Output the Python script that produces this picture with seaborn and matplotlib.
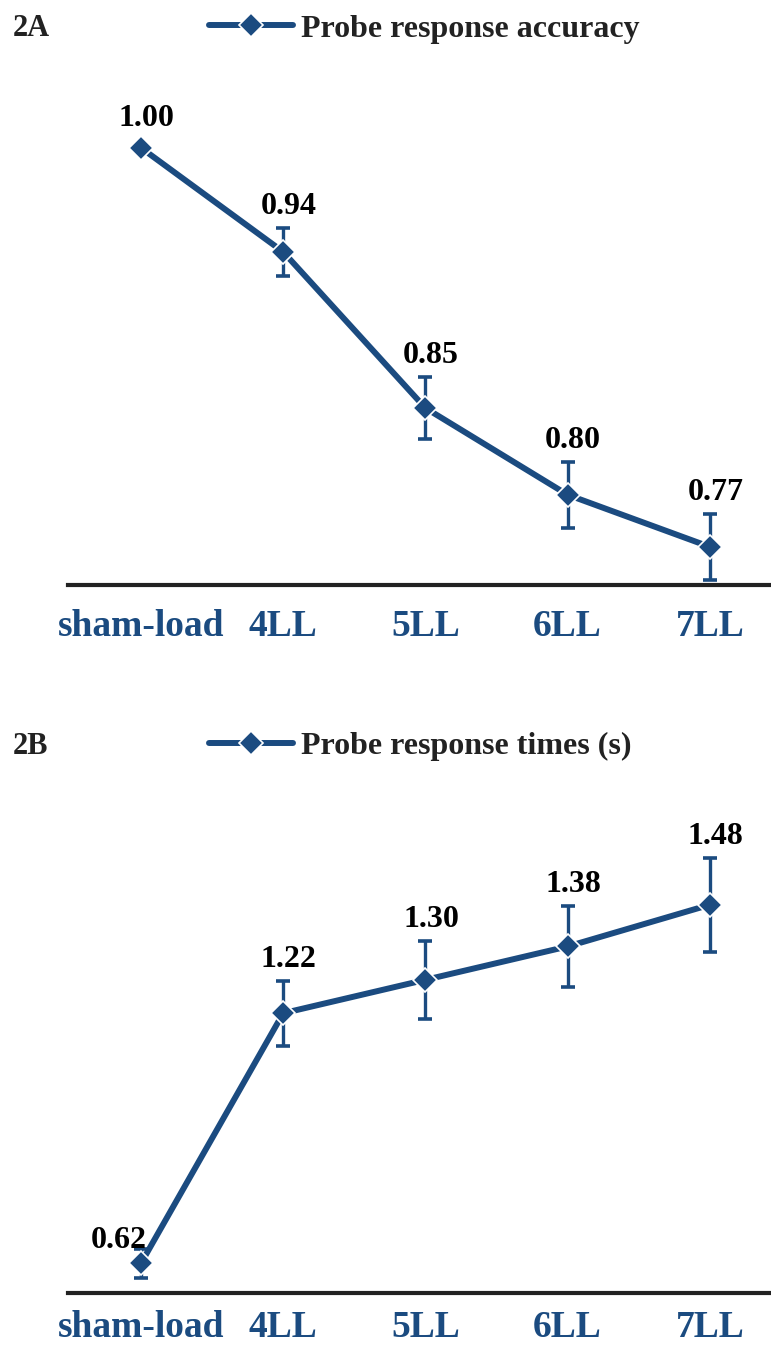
import numpy as np
import matplotlib
matplotlib.use("Agg")
import matplotlib.pyplot as plt
import seaborn as sns

# data
loads = ["sham-load", "4LL", "5LL", "6LL", "7LL"]
accuracy = [1.00, 0.94, 0.85, 0.80, 0.77]
accuracy_err = [0.0, 0.014, 0.018, 0.019, 0.019]
rt = [0.62, 1.22, 1.30, 1.38, 1.48]
rt_err = [0.034, 0.078, 0.094, 0.097, 0.113]

sns.set_theme(style="white")
plt.rcParams['font.family'] = ['Liberation Serif', 'DejaVu Serif']
plt.rcParams['font.weight'] = 'bold'

blue = '#1b4b80'
W, H = 771, 1347
fig = plt.figure(figsize=(W / 100, H / 100), dpi=100)
fig.patch.set_facecolor('white')


def panel(rect, vals, errs, ylim, tag, legend_label, legend_y, label_shift, pad):
    ax = fig.add_axes(rect)
    sns.lineplot(x=loads, y=vals, ax=ax, color=blue, lw=4.3, marker='D',
                 markersize=12.5, markeredgecolor='white', markeredgewidth=1.2,
                 label=legend_label, sort=False, zorder=3)
    ax.errorbar(loads, vals, yerr=errs, fmt='none', ecolor=blue, elinewidth=2.4,
                capsize=5, capthick=2.6, zorder=2)
    ax.set_xlim(-0.513, 4.43)
    ax.set_ylim(*ylim)
    for i, (v, e) in enumerate(zip(vals, errs)):
        dx, dy = label_shift.get(i, (4, 5))
        ax.annotate(f"{v:.2f}", (i, v + e), xytext=(dx, dy), textcoords='offset points',
                    ha='center', va='bottom', fontsize=23, fontweight='bold', color='black',
                    zorder=5)
    for s in ['top', 'left', 'right']:
        ax.spines[s].set_visible(False)
    ax.spines['bottom'].set_color('#222222')
    ax.spines['bottom'].set_linewidth(3)
    ax.set_yticks([])
    ax.tick_params(axis='x', length=0, pad=pad)
    for t in ax.get_xticklabels():
        t.set_fontsize(27)
        t.set_fontweight('bold')
        t.set_color(blue)
    ax.set_xlabel('')
    ax.set_ylabel('')
    ax.legend(loc='center left', bbox_to_anchor=(180 / W, legend_y),
              bbox_transform=fig.transFigure, frameon=False,
              handlelength=2.65, handletextpad=0.25, labelcolor='#222222',
              prop={'weight': 'bold', 'size': 23})
    fig.text(13 / W, legend_y, tag, fontsize=22, fontweight='bold', color='#222222',
             ha='left', va='center')
    return ax


# panel A
panel([68 / W, (H - 585) / H, 1 - 68 / W, 495 / H], accuracy, accuracy_err,
      (0.748, 0.748 + 495 / 1735), '2A', 'Probe response accuracy',
      1 - 29 / H, {0: (4, 11)}, 17)

# panel B
panel([68 / W, (H - 1293) / H, 1 - 68 / W, 473 / H], rt, rt_err,
      (0.549, 0.549 + 473 / 417), '2B', 'Probe response times (s)',
      1 - 746 / H, {0: (-16, -4)}, 12)

fig.savefig('out.png', dpi=100, facecolor='white')
